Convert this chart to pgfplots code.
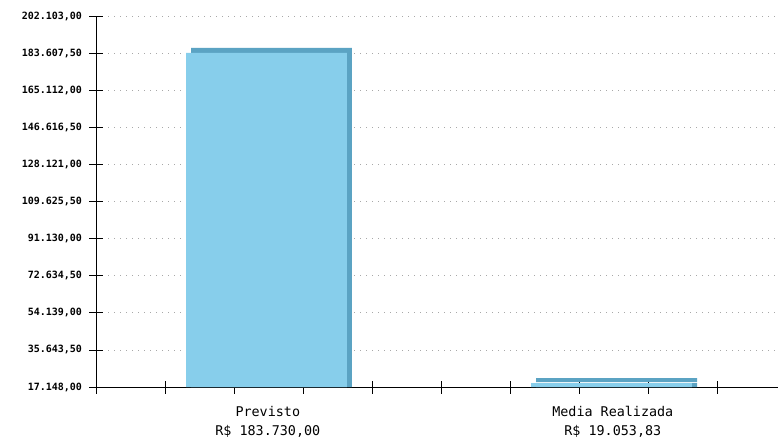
\documentclass[border=0pt]{standalone}
\usepackage{pgfplots}
\pgfplotsset{compat=1.18}
\usepackage{fontspec}
\setmainfont{DejaVu Sans Mono}
\definecolor{front}{HTML}{87CEEB}
\definecolor{side}{HTML}{5BA3C3}
\definecolor{gridc}{HTML}{A8A8A8}
\begin{document}
\begin{tikzpicture}
\useasboundingbox (0,0) rectangle (778pt,440pt);
\begin{axis}[
  at={(96pt,53pt)}, anchor=south west,
  scale only axis, width=682pt, height=371pt,
  xmin=0, xmax=9.884, ymin=17148, ymax=202103,
  scaled y ticks=false,
  axis x line=bottom, axis y line=left,
  axis line style={-, line width=0.8pt},
  xtick={0,1,2,3,4,5,6,7,8,9}, xticklabels={},
  ytick={17148,35643.5,54139,72634.5,91130,109625.5,128121,146616.5,165112,183607.5,202103},
  yticklabels={{17.148,00},{35.643,50},{54.139,00},{72.634,50},{91.130,00},{109.625,50},{128.121,00},{146.616,50},{165.112,00},{183.607,50},{202.103,00}},
  /pgf/number format/assume math mode=true,
  tick align=center, major tick length=13pt,
  tick style={black, line width=0.8pt},
  ymajorgrids, grid style={gridc, line width=0.8pt, dash pattern=on 1.2pt off 4.8pt},
  extra x ticks={2.49,7.49},
  extra x tick labels={{Previsto\\R\$ 183.730,00},{Media Realizada\\R\$ 19.053,83}},
  extra x tick style={major tick length=0pt, grid=none,
    xticklabel style={align=center, font=\fontsize{13.4}{19}\selectfont, yshift=-16pt}},
  yticklabel style={font=\fontsize{10}{12}\selectfont\bfseries, xshift=-4pt},
]
\addplot[ybar, bar width=2.333, bar shift=0pt, fill=side, draw=none, xshift=5pt, yshift=5pt]
  coordinates {(2.471,183730) (7.471,19053.83)};
\addplot[ybar, bar width=2.333, bar shift=0pt, fill=side, draw=none, xshift=5pt]
  coordinates {(2.471,183730) (7.471,19053.83)};
\addplot[ybar, bar width=2.333, bar shift=0pt, fill=front, draw=none]
  coordinates {(2.471,183730) (7.471,19053.83)};
\end{axis}
\end{tikzpicture}
\end{document}
